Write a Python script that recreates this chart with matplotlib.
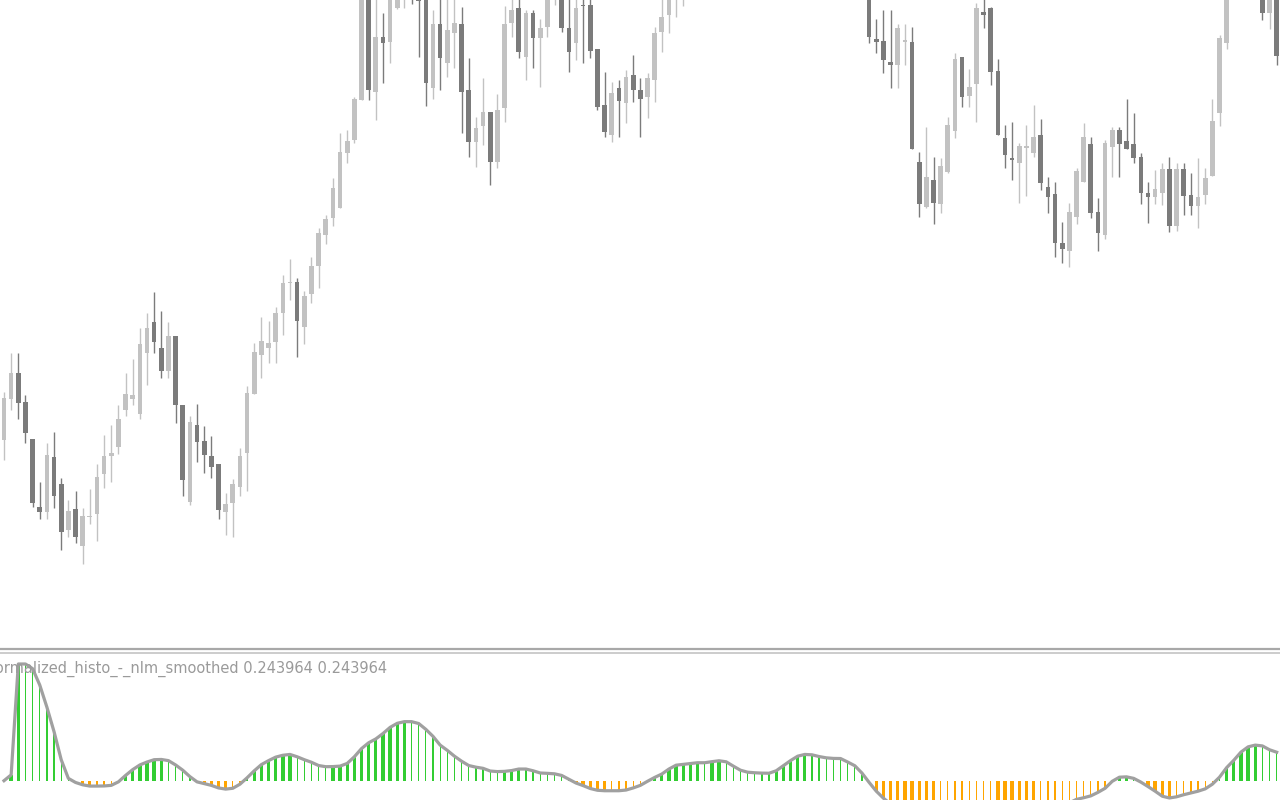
import matplotlib
matplotlib.use("Agg")
import matplotlib.pyplot as plt
from matplotlib.lines import Line2D
import numpy as np

# candles (price units, one per bar, left to right)
open_ = [210, 251, 277, 248, 211, 143, 138, 193, 166, 120, 141, 104, 133, 136, 176, 194, 203, 240, 251, 236,
         297, 328, 302, 279, 314, 245, 148, 225, 209, 194, 186, 138, 147, 163, 197, 256, 295, 302, 308, 337,
         367, 368, 323, 356, 384, 415, 432, 442, 497, 510, 550, 660, 558, 613, 608, 642, 660, 690, 670, 660,
         562, 626, 587, 617, 626, 560, 508, 524, 538, 488, 542, 627, 642, 593, 637, 612, 623, 658, 660, 622,
         607, 645, 645, 601, 545, 515, 562, 547, 575, 560, 553, 570, 618, 635, 655, 665, 690, 715, 745, 730,
         765, 790, 760, 740, 768, 800, 780, 750, 770, 790, 760, 730, 750, 720, 700, 730, 710, 695, 720, 700,
         680, 660, 611, 609, 588, 585, 608.5, 608, 488, 443, 470, 446, 478, 519, 593, 554, 566, 638, 642, 579,
         512, 491.5, 487, 502.5, 497, 515, 463, 456, 407, 399, 433, 468, 506, 438, 415, 503, 520, 509, 506, 493,
         457, 453, 457, 481, 424, 481, 455, 444, 455, 474, 537, 607, 660, 685, 710, 680, 665, 637, 660]
high = [258, 297, 297, 255, 211, 168, 207, 218, 172, 150, 159, 142, 161, 186, 215, 225, 245, 277, 291, 322,
        337, 358, 339, 328, 314, 245, 234, 246, 224, 214, 186, 157, 171, 202, 264, 307, 333, 329, 343, 375,
        391, 372, 359, 393, 422, 435, 472, 517, 520, 553, 665, 670, 658, 637, 675, 680, 695, 700, 680, 670,
        640, 655, 655, 655, 643, 592, 533, 572, 538, 556, 644, 655, 655, 640, 640, 631, 670, 685, 670, 655,
        655, 655, 655, 601, 578, 568, 570, 580, 595, 572, 577, 623, 655, 670, 690, 705, 730, 755, 760, 780,
        800, 800, 775, 780, 810, 815, 790, 785, 800, 800, 770, 760, 760, 730, 740, 740, 720, 730, 730, 710,
        690, 670, 631, 640, 640, 626, 626, 623, 498, 523, 493, 492, 533, 597, 593, 581, 647, 655, 643, 591,
        525, 528, 507, 525, 545, 531, 473, 468, 428, 447, 482, 527, 513, 452, 510, 523, 523, 551, 537, 497,
        468, 480, 487, 493, 487, 487, 477, 492, 482, 551, 615, 670, 700, 720, 720, 690, 675, 670, 670]
low = [190, 240, 231, 207, 143, 131, 131, 142, 100, 113, 107, 86, 126, 109, 162, 168, 196, 234, 245, 231,
       265, 297, 272, 272, 227, 154, 145, 188, 177, 172, 131, 115, 113, 154, 159, 256, 272, 287, 287, 315,
       350, 293, 306, 347, 362, 406, 424, 442, 487, 507, 550, 550, 530, 567, 587, 641, 642, 646, 593, 544,
       551, 560, 573, 582, 517, 493, 483, 505, 465, 482, 528, 613, 592, 570, 582, 563, 613, 645, 618, 578,
       590, 587, 592, 540, 513, 508, 513, 527, 548, 513, 532, 548, 598, 617, 633, 644, 680, 705, 710, 720,
       755, 750, 730, 730, 760, 770, 740, 740, 760, 750, 720, 720, 710, 690, 690, 695, 680, 685, 690, 670,
       655, 607, 597, 577, 562, 562, 585, 501, 433, 442, 426, 437, 477, 512, 543, 543, 528, 622, 565, 515,
       482, 470, 447, 454, 493, 460, 437, 393, 387, 383, 426, 468, 432, 399, 411, 473, 473, 501, 487, 446,
       427, 446, 445, 418, 419, 435, 435, 422, 446, 474, 524, 601, 655, 675, 670, 652, 630, 621, 585]
close = [252, 277, 247, 217, 147, 138, 195, 154, 118, 139, 113, 134, 134, 173, 194, 197, 231, 256, 255, 306,
         322, 308, 279, 314, 245, 170, 228, 208, 195, 183, 140, 146, 166, 194, 257, 298, 309, 307, 337, 367,
         368, 329, 354, 384, 417, 431, 462, 498, 509, 551, 655, 560, 613, 607, 665, 670, 685, 665, 649, 567,
         626, 592, 620, 627, 558, 508, 522, 538, 488, 540, 626, 640, 598, 637, 612, 622, 660, 675, 622, 598,
         642, 644, 599, 543, 518, 557, 549, 573, 560, 551, 572, 617, 633, 660, 680, 695, 720, 745, 725, 770,
         790, 760, 740, 770, 800, 780, 750, 775, 790, 760, 730, 750, 720, 700, 730, 710, 690, 720, 700, 680,
         660, 613, 608, 590, 585, 622, 609.5, 501, 446, 473, 447, 484, 525, 591, 553, 563, 642, 635, 578, 515,
         495, 490.5, 504, 503.5, 513, 467, 453, 407, 401, 438, 479, 513, 437, 417, 507, 520, 506, 501, 492, 457,
         453, 461, 481, 424, 481, 454, 444, 453, 472, 529, 612, 660, 690, 710, 680, 660, 637, 660, 594]

# oscillator values (normalized histogram, same bars)
histo = [0.0, 0.05, 1.0, 1.0, 0.96, 0.82, 0.63, 0.42, 0.18, 0.02,
         -0.015, -0.035, -0.046, -0.046, -0.045, -0.04, -0.01, 0.045, 0.095, 0.135,
         0.16, 0.18, 0.182, 0.172, 0.135, 0.09, 0.035, -0.01, -0.025, -0.04,
         -0.062, -0.072, -0.065, -0.03, 0.025, 0.085, 0.138, 0.172, 0.202, 0.218,
         0.225, 0.205, 0.18, 0.158, 0.13, 0.12, 0.121, 0.125, 0.148, 0.205,
         0.275, 0.325, 0.358, 0.404, 0.457, 0.492, 0.506, 0.506, 0.49, 0.44,
         0.38, 0.305, 0.26, 0.21, 0.167, 0.13, 0.116, 0.106, 0.083, 0.078,
         0.08, 0.087, 0.1, 0.1, 0.085, 0.066, 0.063, 0.059, 0.045, 0.012,
         -0.02, -0.042, -0.067, -0.082, -0.086, -0.086, -0.086, -0.08, -0.062, -0.04,
         -0.005, 0.028, 0.057, 0.1, 0.133, 0.14, 0.147, 0.154, 0.154, 0.163,
         0.171, 0.162, 0.125, 0.09, 0.073, 0.068, 0.065, 0.064, 0.085, 0.128,
         0.172, 0.21, 0.225, 0.222, 0.207, 0.196, 0.191, 0.19, 0.16, 0.128,
         0.065, -0.015, -0.09, -0.15, -0.2, -0.25, -0.29, -0.32, -0.34, -0.36,
         -0.37, -0.36, -0.34, -0.32, -0.3, -0.28, -0.26, -0.25, -0.25, -0.27,
         -0.3, -0.33, -0.35, -0.37, -0.38, -0.36, -0.32, -0.28, -0.23, -0.19,
         -0.16, -0.146, -0.13, -0.1, -0.065, -0.005, 0.03, 0.033, 0.02, -0.012,
         -0.05, -0.09, -0.133, -0.148, -0.138, -0.12, -0.105, -0.09, -0.07, -0.03,
         0.03, 0.112, 0.175, 0.245, 0.29, 0.305, 0.298, 0.265, 0.244]

label = "Normalized_histo_-_nlm_smoothed 0.243964 0.243964"

o = np.array(open_, float); h = np.array(high, float)
l = np.array(low, float); c = np.array(close, float)
v = np.array(histo)
x = np.arange(len(o))

W, H = 1280, 800
fig = plt.figure(figsize=(12.8, 8), dpi=100)
fig.patch.set_facecolor("white")

ax = fig.add_axes([0, (H - 648) / H, 1, 648 / H])
ax2 = fig.add_axes([0, 0, 1, 148 / H])
xlim = (-4 / 7.15, (W - 4) / 7.15)

# candles
up = c >= o
light, dark = "#c2c2c2", "#7b7b7b"
cols = np.where(up, light, dark)
ax.vlines(x, l, h, colors=cols, lw=1.0)
bot = np.minimum(o, c)
ht = np.maximum(np.abs(c - o), 1.2)
ax.bar(x, ht, bottom=bot, width=0.65, color=cols, linewidth=0)
ax.set_xlim(*xlim)
ax.set_ylim(2, 650)
ax.axis("off")

# histogram: wide bars when the value grows in size, narrow when it shrinks
green, orange = "#32cd32", "#ffa500"
prev = np.concatenate([[0.0], v[:-1]])
wide = np.abs(v) > np.abs(prev)
hcol = np.where(v >= 0, green, orange)
widths = np.where(wide, 0.47, 0.18)
ax2.bar(x, v, width=widths, color=hcol, linewidth=0)
ax2.plot(x, v, color="#a0a0a0", lw=2.3, solid_joinstyle="round")
ax2.set_xlim(*xlim)
ax2.set_ylim(-(800 - 780.7) / 116.7, (780.7 - 652) / 116.7)
ax2.axis("off")
ax2.text(387 / W, 1 - (669 - 652) / 148, label, transform=ax2.transAxes,
         ha="right", va="center", fontsize=10.5, color="#9a9a9a", clip_on=False)

# separator between the panes
for yy, col, lw in [(649, "#a8a8a8", 1.6), (652.5, "#c4c4c4", 1.2)]:
    fig.add_artist(Line2D([0, 1], [1 - yy / H, 1 - yy / H], transform=fig.transFigure,
                          color=col, lw=lw))

fig.savefig("out.png", dpi=100, facecolor="white")
